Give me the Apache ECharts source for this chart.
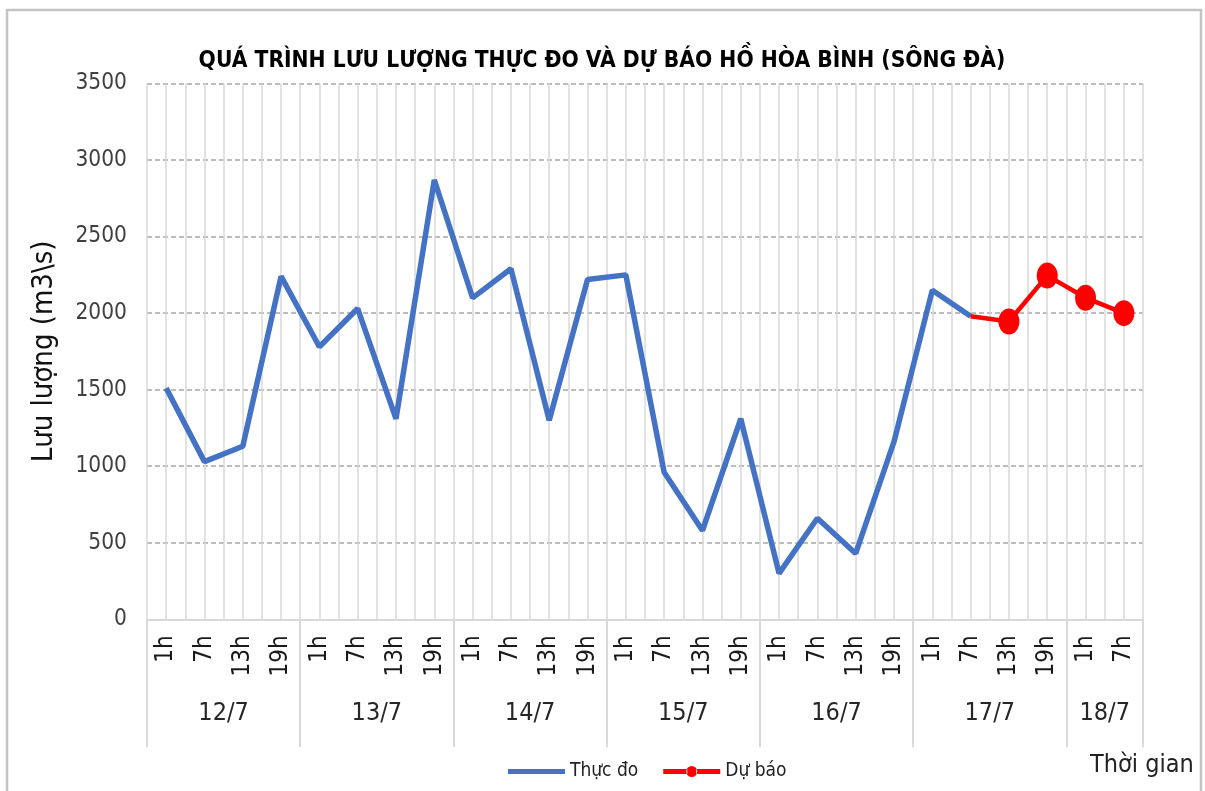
<!DOCTYPE html>
<html><head><meta charset="utf-8">
<script src="https://cdn.jsdelivr.net/npm/echarts@6/dist/echarts.min.js"></script>
<style>html,body{margin:0;padding:0;background:#fff}#c{width:1205px;height:791px}</style>
</head><body><div id="c"></div>
<script>
const titleText = 'QUÁ TRÌNH LƯU LƯỢNG THỰC ĐO VÀ DỰ BÁO HỒ HÒA BÌNH (SÔNG ĐÀ)';
const yAxisName = 'Lưu lượng (m3\\s)';
const xAxisName = 'Thời gian';
const hourLabels = ['1h','7h','13h','19h','1h','7h','13h','19h','1h','7h','13h','19h','1h','7h','13h','19h','1h','7h','13h','19h','1h','7h','13h','19h','1h','7h'];
const dayLabels = ['12/7','13/7','14/7','15/7','16/7','17/7','18/7'];
const hoursPerDay = [4,4,4,4,4,4,2];
const measuredName = 'Thực đo';
const measured = [1510,1030,1130,2240,1780,2030,1310,2870,2100,2290,1300,2220,2250,960,580,1310,300,660,430,1160,2150,1980];
const forecastName = 'Dự báo';
const forecastStart = 21;
const forecast = [1980,1945,2245,2100,2000];
const yMin = 0, yMax = 3500, yStep = 500;

const FONT = "'Liberation Sans Narrow','DejaVu Sans Condensed','Liberation Sans',sans-serif";
const N = hourLabels.length;
const boundaries = [0];
const centers = [];
hoursPerDay.forEach(function (n) {
  const s = boundaries[boundaries.length - 1];
  centers.push(s + n / 2);
  boundaries.push(s + n);
});
function dayAt(v) {
  const i = centers.findIndex(function (c) { return Math.abs(c - v) < 1e-6; });
  return i >= 0 ? dayLabels[i] : '';
}
const measuredData = measured.map(function (v, i) { return [i + 0.5, v]; });
const forecastData = forecast.map(function (v, i) {
  const p = { value: [forecastStart + i + 0.5, v] };
  if (i === 0) p.symbol = 'none';
  return p;
});

const chart = echarts.init(document.getElementById('c'), null, { renderer: 'canvas' });
chart.setOption({
  animation: false,
  textStyle: { fontFamily: FONT },
  title: {
    text: titleText, left: 597, textAlign: 'center', top: 45,
    textStyle: { fontFamily: FONT, fontWeight: 'bold', fontSize: 22.6, color: '#000' }
  },
  graphic: [
    { type: 'rect', shape: { x: 7, y: 10, width: 1194, height: 800 }, style: { fill: null, stroke: '#c4c4c4', lineWidth: 2.5 }, silent: true },
    { type: 'text', left: 1090, top: 753, style: { text: xAxisName, font: '25px ' + FONT, fill: '#222' } }
  ],
  legend: {
    left: 503, top: 757, itemWidth: 57, itemHeight: 11, itemGap: 25,
    textStyle: { fontFamily: FONT, fontSize: 19, color: '#222' },
    data: [
      { name: measuredName, icon: 'path://M0,3H57V8H0Z M0,0H0.01V11H0Z' },
      { name: forecastName, icon: 'path://M0,3H24V8H0Z M33,3H57V8H33Z M23,5.5a5.5,5.5 0 1,0 11,0a5.5,5.5 0 1,0 -11,0Z' }
    ]
  },
  grid: { left: 147, right: 62, top: 83.5, bottom: 171.7 },
  xAxis: [
    {
      type: 'value', min: 0, max: N, interval: 0.5,
      splitLine: { show: true, lineStyle: { color: '#d9d9d9', width: 1.5 } },
      axisLine: { show: true, onZero: false, lineStyle: { color: '#d9d9d9', width: 2 } },
      axisTick: { show: false }, axisLabel: { show: false }
    },
    {
      type: 'category', data: hourLabels, boundaryGap: true, position: 'bottom',
      axisLine: { show: false }, axisTick: { show: false }, splitLine: { show: false },
      axisLabel: { rotate: 90, interval: 0, margin: 16, fontSize: 24, color: '#1a1a1a', fontFamily: FONT }
    },
    {
      type: 'value', min: 0, max: N, position: 'bottom',
      axisLine: { show: false }, splitLine: { show: false },
      axisTick: { show: true, customValues: boundaries, length: 128, lineStyle: { color: '#d9d9d9', width: 2 } },
      axisLabel: { customValues: centers, formatter: dayAt, margin: 82, fontSize: 25, color: '#262626', fontFamily: FONT }
    }
  ],
  yAxis: {
    type: 'value', min: yMin, max: yMax, interval: yStep,
    name: yAxisName, nameLocation: 'middle', nameRotate: 90, nameGap: 88,
    nameTextStyle: { fontFamily: FONT, fontSize: 29, color: '#111' },
    axisLine: { show: false }, axisTick: { show: false },
    axisLabel: { margin: 20, fontSize: 22.5, color: '#404040', fontFamily: FONT, formatter: function (v) { return String(v); } },
    splitLine: { show: true, lineStyle: { color: '#a6a6a6', width: 1.5, type: [5, 3] } }
  },
  series: [
    {
      name: measuredName, type: 'line', xAxisIndex: 0, data: measuredData,
      symbol: 'none', lineStyle: { color: '#4472C4', width: 5.5 }, itemStyle: { color: '#4472C4' }, z: 3
    },
    {
      name: forecastName, type: 'line', xAxisIndex: 0, data: forecastData,
      symbol: 'circle', symbolSize: [21, 26],
      lineStyle: { color: '#FF0000', width: 4.5 }, itemStyle: { color: '#FF0000' }, z: 4
    }
  ]
});
</script></body></html>
